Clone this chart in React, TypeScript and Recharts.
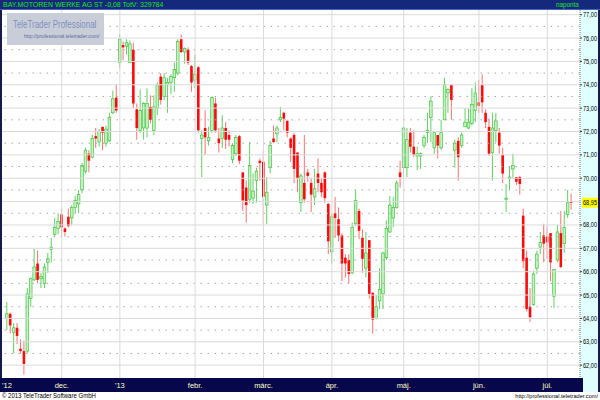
import React from 'react';
import { ComposedChart, Bar, XAxis, YAxis, ReferenceLine } from 'recharts';

// daily candles, Nov 2012 - Jul 2013
const opens = [
  64.0, 64.2, 63.4, 63.6, 62.7, 62.6, 62.6, 64.85, 65.65, 66.35,
  65.7, 65.5, 66.4, 66.95, 67.6, 67.85, 68.45, 67.85, 68.35, 68.3,
  68.75, 68.9, 69.5, 70.3, 71.05, 70.9, 71.8, 71.55, 72.2, 71.5,
  71.6, 72.8, 73.45, 74.95, 75.7, 75.65, 74.95, 75.5, 72.95, 72.05,
  72.15, 72.15, 73.05, 72.05, 73.0, 74.35, 73.5, 74.0, 74.1, 74.3,
  74.5, 75.95, 75.4, 75.5, 74.8, 74.2, 74.75, 71.7, 72.15, 71.6,
  72.05, 73.2, 71.7, 71.7, 72.15, 71.85, 70.8, 71.05, 71.8, 70.25,
  69.6, 69.1, 69.15, 69.9, 70.75, 70.7, 68.85, 70.45, 71.7, 71.9,
  72.5, 72.8, 72.45, 71.7, 71.85, 71.1, 68.95, 69.8, 70.25, 69.8,
  69.2, 70.2, 69.8, 70.25, 68.9, 66.85, 68.5, 68.25, 67.55, 66.6,
  66.5, 65.95, 68.05, 68.6, 67.45, 66.15, 67.35, 65.1, 64.0, 64.75,
  65.05, 66.6, 67.7, 68.3, 68.75, 70.25, 70.45, 70.45, 71.95, 71.35,
  70.95, 70.95, 71.4, 71.95, 72.6, 71.3, 71.85, 71.3, 72.5, 73.65,
  74.0, 71.2, 71.6, 71.4, 72.2, 72.15, 72.35, 72.9, 73.25, 74.0,
  72.8, 72.2, 71.1, 72.05, 71.95, 71.0, 69.1, 70.0, 70.4, 70.05,
  70.05, 68.4, 66.6, 64.5, 64.6, 66.15, 67.05, 67.55, 67.5, 67.65,
  64.95, 66.5, 67.65, 67.2, 68.45, 69.0,
];
const highs = [
  64.7, 64.25, 63.8, 63.8, 63.1, 63.05, 65.3, 65.75, 67.0, 66.9,
  65.95, 66.35, 66.8, 67.45, 68.3, 68.5, 68.7, 67.9, 68.7, 68.85,
  69.25, 69.5, 70.65, 71.3, 71.2, 71.85, 72.15, 72.1, 72.2, 72.25,
  72.8, 73.75, 74.0, 76.15, 75.85, 75.95, 75.9, 75.8, 73.2, 73.8,
  73.25, 73.85, 73.55, 73.55, 74.1, 74.5, 74.5, 74.3, 74.45, 74.95,
  75.95, 76.15, 75.6, 75.6, 74.85, 75.3, 74.8, 72.05, 72.9, 72.2,
  73.5, 73.45, 72.15, 72.7, 72.4, 72.05, 71.5, 71.85, 71.85, 70.25,
  69.9, 71.55, 70.2, 70.45, 70.85, 71.2, 70.05, 71.6, 72.25, 72.25,
  73.05, 72.85, 72.5, 71.75, 71.95, 71.1, 70.2, 71.85, 70.4, 70.0,
  70.4, 70.85, 70.0, 70.3, 68.95, 68.5, 69.2, 68.75, 67.65, 66.75,
  66.75, 68.1, 69.5, 68.7, 67.8, 67.7, 67.35, 65.1, 65.0, 66.15,
  66.85, 68.2, 69.25, 69.2, 69.9, 70.75, 72.2, 72.15, 72.15, 72.05,
  71.35, 71.1, 71.85, 72.8, 73.5, 71.95, 71.85, 72.5, 74.3, 73.85,
  74.0, 71.65, 71.75, 71.95, 73.0, 73.0, 73.85, 74.1, 74.2, 74.45,
  72.95, 72.55, 72.8, 72.8, 72.15, 71.3, 69.75, 70.5, 71.05, 70.05,
  70.1, 68.7, 66.9, 65.3, 66.05, 66.9, 67.7, 68.05, 67.95, 67.65,
  66.1, 68.0, 68.6, 68.6, 69.5, 69.35,
];
const lows = [
  63.5, 63.35, 62.5, 62.9, 62.5, 61.6, 62.5, 64.5, 65.6, 65.5,
  65.3, 65.3, 65.95, 66.4, 67.5, 67.6, 67.55, 67.5, 67.9, 68.0,
  68.5, 68.5, 69.35, 70.2, 70.25, 70.85, 71.3, 71.35, 71.2, 71.35,
  71.55, 72.75, 72.8, 74.7, 75.05, 75.3, 74.95, 73.0, 71.65, 71.95,
  71.65, 71.75, 72.35, 71.85, 72.7, 73.15, 73.35, 72.8, 73.6, 73.7,
  74.4, 75.35, 74.9, 74.85, 73.7, 73.85, 71.95, 70.05, 71.0, 71.4,
  71.95, 71.95, 71.1, 71.3, 71.25, 71.35, 70.65, 70.95, 70.6, 68.6,
  68.1, 68.95, 68.9, 68.95, 69.9, 68.05, 68.05, 70.2, 71.5, 71.55,
  72.4, 72.05, 71.75, 70.7, 69.8, 69.4, 68.55, 68.95, 69.85, 68.55,
  68.85, 69.4, 69.2, 68.95, 66.75, 66.35, 67.45, 67.3, 65.6, 65.75,
  65.5, 65.9, 67.95, 67.4, 65.95, 65.75, 64.85, 63.35, 63.95, 64.4,
  64.4, 66.5, 67.65, 67.9, 68.7, 69.6, 70.0, 70.05, 71.1, 70.9,
  70.35, 70.4, 71.3, 71.5, 71.55, 71.05, 70.85, 71.2, 72.5, 72.8,
  72.5, 70.45, 69.9, 71.3, 72.2, 72.1, 72.25, 72.4, 72.8, 72.8,
  72.15, 70.95, 69.9, 71.55, 71.05, 69.8, 68.55, 69.5, 70.0, 69.7,
  69.3, 66.15, 64.3, 63.85, 64.55, 65.9, 66.75, 66.4, 66.55, 65.6,
  64.45, 66.4, 66.15, 66.8, 68.3, 68.65,
];
const closes = [
  64.2, 63.7, 63.6, 63.25, 62.6, 62.05, 65.05, 65.7, 66.2, 65.65,
  65.8, 66.2, 66.55, 67.05, 67.9, 68.15, 67.9, 67.7, 67.95, 68.75,
  69.05, 69.3, 70.55, 71.2, 70.75, 71.7, 71.7, 72.0, 71.95, 72.1,
  72.6, 73.4, 72.9, 75.95, 75.6, 75.8, 75.75, 73.2, 72.15, 72.9,
  73.2, 73.2, 72.5, 73.05, 74.0, 73.35, 74.3, 74.1, 74.35, 74.65,
  75.85, 75.4, 75.55, 74.95, 74.1, 74.45, 72.05, 71.85, 71.75, 71.75,
  73.45, 72.05, 71.5, 72.15, 71.65, 71.65, 71.4, 71.75, 70.75, 69.05,
  68.85, 70.55, 69.45, 70.3, 70.65, 69.2, 69.4, 71.4, 71.55, 72.15,
  72.6, 72.55, 71.95, 71.3, 70.4, 70.0, 70.1, 69.1, 70.1, 69.3,
  69.55, 69.8, 69.4, 69.15, 67.3, 68.35, 68.3, 67.55, 66.35, 66.35,
  65.9, 67.9, 69.05, 67.75, 66.55, 66.8, 65.05, 63.95, 64.5, 65.25,
  66.8, 67.85, 68.85, 68.75, 69.8, 70.05, 72.15, 71.65, 71.35, 71.0,
  71.05, 71.05, 71.75, 72.05, 73.3, 71.95, 71.4, 71.95, 74.0, 73.8,
  73.35, 71.5, 70.9, 71.85, 72.4, 72.4, 73.15, 73.65, 73.1, 73.25,
  72.4, 71.05, 72.15, 72.45, 71.4, 70.2, 69.15, 70.05, 70.55, 69.85,
  69.75, 66.45, 64.4, 64.05, 65.9, 66.75, 67.25, 67.2, 67.25, 66.4,
  66.1, 67.7, 66.2, 67.9, 68.95, 68.95,
];

// first trading day of each month (candle index) and its label
const monthTicks = [0, 16, 33, 55, 75, 95, 116, 138, 158];
const monthLabels = ["'12", 'dec.', "'13", 'febr.', 'márc.', 'ápr.', 'máj.', 'jún.', 'júl.'];
const monthLines = [16, 33, 55, 75, 95, 116, 138, 158];

const priceTicks = [62, 63, 64, 65, 66, 67, 68, 69, 70, 71, 72, 73, 74, 75, 76, 77];
const halfLines = [62.5, 63.5, 64.5, 65.5, 66.5, 67.5, 68.5, 69.5, 70.5, 71.5, 72.5, 73.5, 74.5, 75.5, 76.5];

const lastClose = closes[closes.length - 1];

const candles = closes.map((c, i) => ({
  i,
  open: opens[i],
  high: highs[i],
  low: lows[i],
  close: c,
  range: [lows[i], highs[i]],
}));

const FONT = "'Liberation Sans', Arial, sans-serif";
const fmt = (v: number) => v.toFixed(2).replace('.', ',');

// squeezed text, the original uses a condensed bitmap font
const narrow = (sx: number): React.CSSProperties => ({
  display: 'inline-block',
  transform: `scaleX(${sx})`,
  transformOrigin: 'left center',
  whiteSpace: 'nowrap',
});

function Candle(props: any) {
  const { x, y, width, height, payload } = props;
  if (!payload) return null;
  const { open, close, high, low } = payload;
  const top = height < 0 ? y + height : y;
  const h = Math.abs(height);
  const k = h / (high - low || 0.01);
  const cx = x + width / 2;
  const yO = top + (high - open) * k;
  const yC = top + (high - close) * k;
  const up = close >= open;
  const bTop = Math.min(yO, yC);
  const bH = Math.max(Math.abs(yC - yO), 1);
  return (
    <g>
      <line x1={cx} x2={cx} y1={top} y2={top + h} stroke={up ? '#5fd05f' : '#ff7070'} strokeWidth={1} />
      <rect
        x={cx - 1.3}
        y={bTop}
        width={2.6}
        height={bH}
        fill={up ? '#c8f2c2' : '#ff0a0a'}
        stroke={up ? '#44c444' : 'none'}
        strokeWidth={0.7}
      />
    </g>
  );
}

function MonthTick(props: any) {
  const { x, y, payload } = props;
  const idx = monthTicks.indexOf(payload.value);
  return (
    <text x={x} y={y + 10} textAnchor="middle" fill="#ffffc8" fontSize={7.5} fontFamily={FONT}>
      {monthLabels[idx]}
    </text>
  );
}

function PriceTag(props: any) {
  const vb = props.viewBox || {};
  const left = vb.x + vb.width + 2;
  return (
    <g>
      <rect x={left} y={vb.y - 5} width={16} height={10} fill="#ffff00" />
      <text x={left + 1} y={vb.y + 2.5} fontSize={6.5} fill="#000" fontFamily={FONT} textLength={14} lengthAdjust="spacingAndGlyphs">
        {fmt(lastClose)}
      </text>
    </g>
  );
}

function PriceTick(props: any) {
  const { x, y, payload } = props;
  return (
    <text x={x} y={y + 2.5} fontSize={6.5} fill="#000" fontFamily={FONT} textLength={14} lengthAdjust="spacingAndGlyphs">
      {fmt(payload.value)}
    </text>
  );
}

export default function App() {
  // hide the axis label that sits under the last-price tag
  const shownTicks = priceTicks.filter((t) => Math.abs(t - lastClose) > 0.3);
  return (
    <div style={{ position: 'absolute', left: 0, top: 0, width: 600, height: 400, background: '#fff', overflow: 'hidden', fontFamily: FONT }}>
      {/* title bar */}
      <div style={{ position: 'absolute', left: 0, top: 0, width: 600, height: 9, background: '#14287c', borderBottom: '1px solid #4a62b8' }} />
      <div style={{ position: 'absolute', left: 3, top: 0, height: 10, lineHeight: '10px', fontSize: 7.5, color: '#1ee61e' }}>
        <span style={narrow(0.93)}>BAY.MOTOREN WERKE AG ST -0,08 TotV: 329784</span>
      </div>
      <div style={{ position: 'absolute', left: 556, top: 0, height: 10, lineHeight: '10px', fontSize: 7, color: '#1ee61e' }}>
        <span style={narrow(0.9)}>naponta</span>
      </div>

      {/* price axis panel, frame and date bar */}
      <div style={{ position: 'absolute', left: 580, top: 10, width: 18, height: 382, background: '#e0ffff' }} />
      <div style={{ position: 'absolute', left: 0, top: 10, width: 2, height: 382, background: '#181850' }} />
      <div style={{ position: 'absolute', left: 598, top: 10, width: 2, height: 382, background: '#181850' }} />
      <div style={{ position: 'absolute', left: 0, top: 378, width: 583, height: 14, background: '#07074c' }} />

      <div style={{ position: 'absolute', left: 0, top: 0 }}>
        <ComposedChart width={600} height={392} data={candles} margin={{ top: 10, right: 2, bottom: 0, left: 2 }}>
          <XAxis
            dataKey="i"
            type="category"
            height={14}
            padding={{ left: 3.3, right: 7 }}
            ticks={monthTicks}
            interval={0}
            tickSize={0}
            tickMargin={0}
            axisLine={false}
            tickLine={false}
            tick={<MonthTick />}
          />
          <YAxis
            orientation="right"
            type="number"
            width={18}
            domain={[61.45, 77.2]}
            allowDataOverflow
            ticks={shownTicks}
            interval={0}
            tickSize={2}
            tickMargin={1}
            tick={<PriceTick />}
            tickLine={{ stroke: '#333' }}
            axisLine={{ stroke: '#777', strokeDasharray: '1 1' }}
          />
          {priceTicks.map((v) => (
            <ReferenceLine key={'p' + v} y={v} stroke="#dadada" />
          ))}
          {halfLines.map((v) => (
            <ReferenceLine key={'h' + v} y={v} stroke="#a8a8a8" strokeDasharray="1.5 5.5" />
          ))}
          {monthLines.map((m) => (
            <ReferenceLine key={'m' + m} x={m} stroke="#dadada" />
          ))}
          <Bar dataKey="range" barSize={3} shape={<Candle />} isAnimationActive={false} />
          <ReferenceLine y={lastClose} stroke="none" label={PriceTag} />
        </ComposedChart>
      </div>

      {/* watermark box */}
      <div style={{ position: 'absolute', left: 7, top: 13, width: 97, height: 32, background: '#c9cdd8' }}>
        <div style={{ position: 'absolute', left: 6, top: 5, fontSize: 11, color: '#7f90c2' }}>
          <span style={narrow(0.72)}>TeleTrader Professional</span>
        </div>
        <div style={{ position: 'absolute', left: 17, top: 20, fontSize: 6, color: '#5d6ca0' }}>
          <span style={narrow(0.85)}>http://professional.teletrader.com/</span>
        </div>
      </div>

      {/* footer */}
      <div style={{ position: 'absolute', left: 2, top: 392, height: 8, lineHeight: '8px', fontSize: 7.5, color: '#000' }}>
        <span style={narrow(0.8)}>© 2013 TeleTrader Software GmbH</span>
      </div>
      <div style={{ position: 'absolute', right: 2, top: 392, height: 8, lineHeight: '8px', fontSize: 5.6, color: '#000', whiteSpace: 'nowrap' }}>
        http://professional.teletrader.com/
      </div>
    </div>
  );
}
